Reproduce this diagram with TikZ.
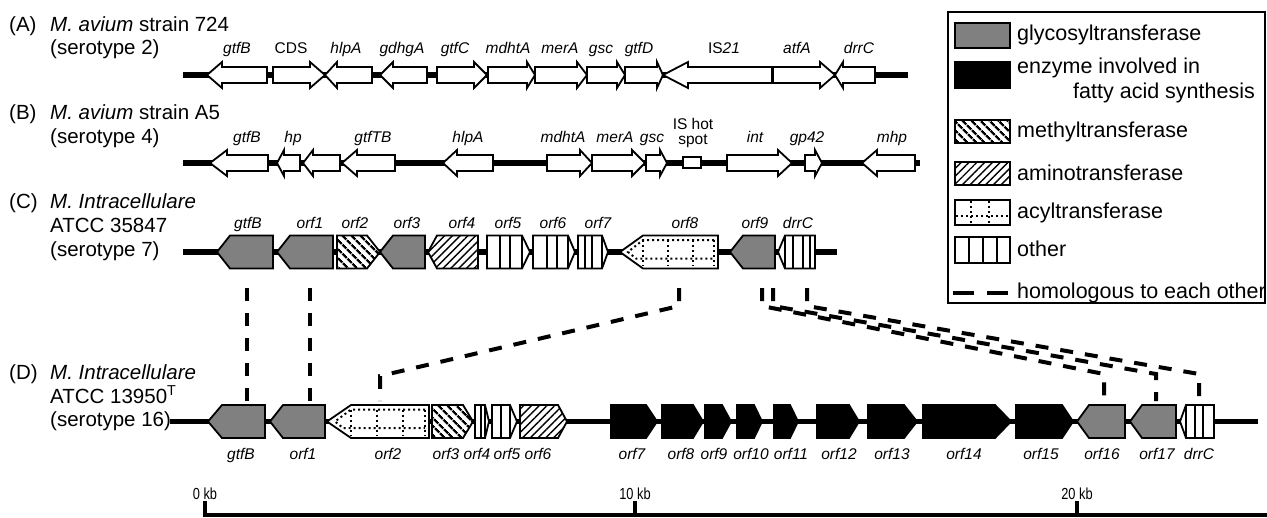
\documentclass[tikz,border=0pt]{standalone}
\usepackage{graphicx}
\usepackage{fontspec}
\setmainfont{Liberation Sans}
\usetikzlibrary{patterns.meta}
\definecolor{glygray}{RGB}{128,128,128}
\newcommand\ttlfont{\fontsize{20.5}{24}\selectfont}
\newcommand\glabfont{\fontsize{15.5}{18}\selectfont\itshape}
\newcommand\legfont{\fontsize{21.5}{25}\selectfont}
\newcommand\kbfont{\fontsize{16}{18}\selectfont}
% arrows of rows A and B: #1 start/tip, #2 head base, #3 tip/end, #4 y
\newcommand\arrR[4]{\draw[genebox] (#1,#4-8) -- (#2,#4-8) -- (#2,#4-13) -- (#3,#4) -- (#2,#4+13) -- (#2,#4+8) -- (#1,#4+8) -- cycle;}
\newcommand\arrL[4]{\draw[genebox] (#3,#4-8) -- (#2,#4-8) -- (#2,#4-13) -- (#1,#4) -- (#2,#4+13) -- (#2,#4+8) -- (#3,#4+8) -- cycle;}
% pentagon genes of rows C and D: #1 style, #2 start/tip, #3 head base, #4 tip/end, #5 y
\newcommand\geneR[5]{\draw[#1] (#2,#5-16.5) -- (#3,#5-16.5) -- (#4,#5) -- (#3,#5+16.5) -- (#2,#5+16.5) -- cycle;}
\newcommand\geneL[5]{\draw[#1] (#4,#5-16.5) -- (#3,#5-16.5) -- (#2,#5) -- (#3,#5+16.5) -- (#4,#5+16.5) -- cycle;}
\newcommand\otherlines[2]{\foreach \xx in {#1} {\draw[sepline] (\xx,#2-16.5) -- (\xx,#2+16.5);}}
% acyl inner dotted lines for left-pointing gene: #1 tip, #2 hb, #3 end, #4 y
\newcommand\acylL[4]{%
  \draw[dotln] (#3-4,#4-12) -- (#2,#4-12) -- (#1+8,#4) -- (#1+16,#4+6.5) -- (#3-4,#4+6.5);
  \foreach \xx in {#2,#2+(#3-#2)/3,#2+2*(#3-#2)/3,#3-4} {\draw[dotln] ({\xx},{#4-12}) -- ({\xx},{#4+14});}}
\tikzset{
  backbone/.style={line width=5.5pt},
  genebox/.style={draw=black,line width=1.8pt,fill=white,line join=miter},
  glyco/.style={genebox,fill=glygray},
  fatty/.style={genebox,fill=black},
  methyl/.style={draw=black,line width=1.8pt,preaction={fill=white},pattern={Lines[angle=-45,distance=6.5pt,line width=2.6pt]}},
  amino/.style={draw=black,line width=1.8pt,preaction={fill=white},pattern={Lines[angle=45,distance=5.5pt,line width=1.4pt]}},
  dotln/.style={line width=2pt,dash pattern=on 2pt off 3pt},
  sepline/.style={line width=1.8pt},
  homol/.style={line width=4pt,dash pattern=on 13pt off 12pt},
  glab/.style={font=\glabfont,anchor=base,inner sep=0pt},
  ttl/.style={font=\ttlfont,anchor=base west,inner sep=0pt},
  legtext/.style={font=\legfont,anchor=base west,inner sep=0pt},
  kblab/.style={font=\kbfont,anchor=base,inner sep=0pt},
  scalebar/.style={line width=3.5pt},
}
\begin{document}
\begin{tikzpicture}[x=1pt,y=-1pt]
\useasboundingbox (0,0) rectangle (1267,517);
\fill[white] (0,0) rectangle (1267,517);

% ---------------- titles
\node[ttl] (tA1) at (9,31) {(A)};
\node[ttl] (tA2) at (50,31) {\textit{M. avium} strain 724};
\node[ttl] (tA3) at (50,54) {(serotype 2)};
\node[ttl] (tB1) at (9,119) {(B)};
\node[ttl] (tB2) at (50,119) {\textit{M. avium} strain A5};
\node[ttl] (tB3) at (50,143) {(serotype 4)};
\node[ttl] (tC1) at (9,208) {(C)};
\node[ttl] (tC2) at (50,208) {\textit{M. Intracellulare}};
\node[ttl] (tC3) at (50,232) {ATCC 35847};
\node[ttl] (tC4) at (50,256) {(serotype 7)};
\node[ttl] (tD1) at (9,379) {(D)};
\node[ttl] (tD2) at (50,379) {\textit{M. Intracellulare}};
\node[ttl] (tD3) at (50,403) {ATCC 13950\textsuperscript{T}};
\node[ttl] (tD4) at (50,426) {(serotype 16)};

% ---------------- backbones
\draw[backbone] (183,75) -- (908,75);
\draw[backbone] (183,163) -- (920,163);
\draw[backbone] (183,252) -- (837,252);
\draw[backbone] (170,421.5) -- (1258,421.5);

% ---------------- row A
\arrL{207}{222}{267}{75}
\arrR{273}{310}{325}{75}
\arrL{325}{337}{372}{75}
\arrL{380}{393}{427}{75}
\arrR{437}{474}{487}{75}
\arrR{488}{527}{535}{75}
\arrR{535}{577}{587}{75}
\arrR{587}{617}{625}{75}
\arrR{625}{657}{663}{75}
\arrL{663}{688}{772}{75}
\arrR{773}{820}{835}{75}
\arrL{835}{843}{875}{75}
\node[glab] (a1) at (237,53) {gtfB};
\node[glab] (a2) at (291,53) {\upshape CDS};
\node[glab] (a3) at (346,53) {hlpA};
\node[glab] (a4) at (402,53) {gdhgA};
\node[glab] (a5) at (455,53) {gtfC};
\node[glab] (a6) at (508,53) {mdhtA};
\node[glab] (a7) at (560,53) {merA};
\node[glab] (a8) at (601,53) {gsc};
\node[glab] (a9) at (639,53) {gtfD};
\node[glab] (a10) at (724,53) {{\upshape IS}21};
\node[glab] (a11) at (797,53) {atfA};
\node[glab] (a12) at (859,53) {drrC};

% ---------------- row B
\arrL{210}{227}{268}{163}
\arrL{277}{284}{300}{163}
\arrL{303}{313}{340}{163}
\arrL{342}{357}{395}{163}
\arrL{443}{457}{493}{163}
\arrR{547}{580}{592}{163}
\arrR{592}{632}{645}{163}
\arrR{646}{660}{667}{163}
\draw[genebox] (683,157) rectangle (701,168);
\arrR{727}{778}{792}{163}
\arrR{805}{815}{822}{163}
\arrL{862}{877}{915}{163}
\node[glab] (b1) at (247,142) {gtfB};
\node[glab] (b2) at (293,142) {hp};
\node[glab] (b3) at (373,142) {gtfTB};
\node[glab] (b4) at (468,142) {hlpA};
\node[glab] (b5) at (563,142) {mdhtA};
\node[glab] (b6) at (615,142) {merA};
\node[glab] (b7) at (652,142) {gsc};
\node[font=\fontsize{15.5}{15}\selectfont,align=center,anchor=north,inner sep=0pt] (b8) at (693,118) {IS hot\\spot};
\node[glab] (b9) at (755,142) {int};
\node[glab] (b10) at (807,142) {gp42};
\node[glab] (b11) at (892,142) {mhp};

% ---------------- row C
\geneL{glyco}{217}{230}{273}{252}
\geneL{glyco}{277}{290}{333}{252}
\geneR{methyl}{337}{367}{380}{252}
\geneL{glyco}{380}{393}{425}{252}
\geneL{amino}{428}{437}{478}{252}
\geneR{genebox}{487}{522}{530}{252}\otherlines{500,510,522}{252}
\geneR{genebox}{533}{568}{575}{252}\otherlines{547,557,568}{252}
\geneR{genebox}{578}{602}{608}{252}\otherlines{585,592,602}{252}
\geneL{genebox}{620}{643}{718}{252}\acylL{620}{643}{718}{252}
\geneL{glyco}{730}{743}{775}{252}
\geneL{genebox}{778}{785}{815}{252}\otherlines{785,793,803,810}{252}
\node[glab] (c1) at (248,228) {gtfB};
\node[glab] (c2) at (310,228) {orf1};
\node[glab] (c3) at (355,228) {orf2};
\node[glab] (c4) at (407,228) {orf3};
\node[glab] (c5) at (462,228) {orf4};
\node[glab] (c6) at (508,228) {orf5};
\node[glab] (c7) at (553,228) {orf6};
\node[glab] (c8) at (598,228) {orf7};
\node[glab] (c9) at (685,228) {orf8};
\node[glab] (c10) at (755,228) {orf9};
\node[glab] (c11) at (798,228) {drrC};

% ---------------- row D
\geneL{glyco}{208}{222}{265}{421.5}
\geneL{glyco}{270}{283}{325}{421.5}
\geneL{genebox}{327}{351}{429}{421.5}\acylL{327}{351}{429}{421.5}
\geneR{methyl}{432}{463}{473}{421.5}
\geneR{genebox}{475}{485}{489}{421.5}\otherlines{481,485}{421.5}
\geneR{genebox}{492}{510}{517}{421.5}\otherlines{501,510}{421.5}
\geneR{amino}{520}{558}{567}{421.5}
\geneR{fatty}{611}{646}{657}{421.5}
\geneR{fatty}{662}{693}{703}{421.5}
\geneR{fatty}{705}{722}{731}{421.5}
\geneR{fatty}{737}{754}{762}{421.5}
\geneR{fatty}{774}{790}{798}{421.5}
\geneR{fatty}{817}{849}{859}{421.5}
\geneR{fatty}{868}{904}{917}{421.5}
\geneR{fatty}{923}{995}{1011}{421.5}
\geneR{fatty}{1016}{1062}{1073}{421.5}
\geneL{glyco}{1077}{1089}{1125}{421.5}
\geneL{glyco}{1130}{1142}{1176}{421.5}
\geneL{genebox}{1180}{1186}{1214}{421.5}\otherlines{1186,1195,1203}{421.5}
\node[glab] (d1) at (241,459) {gtfB};
\node[glab] (d2) at (303,459) {orf1};
\node[glab] (d3) at (388,459) {orf2};
\node[glab] (d4) at (446,459) {orf3};
\node[glab] (d5) at (477,459) {orf4};
\node[glab] (d6) at (507,459) {orf5};
\node[glab] (d7) at (538,459) {orf6};
\node[glab] (d8) at (632,459) {orf7};
\node[glab] (d9) at (681,459) {orf8};
\node[glab] (d10) at (714,459) {orf9};
\node[glab] (d11) at (751,459) {orf10};
\node[glab] (d12) at (791,459) {orf11};
\node[glab] (d13) at (839,459) {orf12};
\node[glab] (d14) at (892,459) {orf13};
\node[glab] (d15) at (964,459) {orf14};
\node[glab] (d16) at (1041,459) {orf15};
\node[glab] (d17) at (1102,459) {orf16};
\node[glab] (d18) at (1157,459) {orf17};
\node[glab] (d19) at (1199,459) {drrC};

% ---------------- homology connectors
\coordinate (hC1) at (247,288); \coordinate (hD1) at (247,401);
\coordinate (hC2) at (310,288); \coordinate (hD2) at (310,401);
\coordinate (hC3) at (679,288); \coordinate (hC3b) at (679,306);
\coordinate (hD3b) at (380,376); \coordinate (hD3) at (380,401);
\coordinate (hC4) at (762,288); \coordinate (hC4b) at (762,306);
\coordinate (hD4b) at (1104,374); \coordinate (hD4) at (1104,401);
\coordinate (hC5) at (773,288); \coordinate (hC5b) at (773,306);
\coordinate (hD5b) at (1156,374); \coordinate (hD5) at (1156,401);
\coordinate (hC6) at (807,288); \coordinate (hC6b) at (807,306);
\coordinate (hD6b) at (1199,374); \coordinate (hD6) at (1199,401);
\draw[homol] (hC1) -- (hD1);
\draw[homol] (hC2) -- (hD2);
\draw[homol] (hC3) -- (hC3b) -- (hD3b) -- (hD3);
\draw[homol] (hC4) -- (hC4b) -- (hD4b) -- (hD4);
\draw[homol] (hC5) -- (hC5b) -- (hD5b) -- (hD5);
\draw[homol] (hC6) -- (hC6b) -- (hD6b) -- (hD6);

% ---------------- legend
\draw[line width=1.8pt] (948,12) rectangle (1265,303);
\draw[glyco] (955,23) rectangle (1010,48);
\draw[fatty] (955,62) rectangle (1010,88);
\draw[methyl] (955,120) rectangle (1010,143);
\draw[amino] (955,162) rectangle (1010,185);
\draw[genebox] (955,200) rectangle (1010,225);
\draw[dotln] (956,216) -- (1009,216);
\draw[dotln] (971,201) -- (971,224);
\draw[dotln] (989,201) -- (989,224);
\draw[genebox] (955,237) rectangle (1010,263);
\foreach \xx in {969,983,997} {\draw[sepline] (\xx,237) -- (\xx,263);}
\draw[line width=4pt,dash pattern=on 21pt off 13pt] (953,293) -- (1008,293);
\node[legtext] (l1) at (1017,40.5) {glycosyltransferase};
\node[legtext] (l2) at (1017,73.5) {enzyme involved in};
\node[legtext] (l3) at (1073,98.5) {fatty acid synthesis};
\node[legtext] (l4) at (1017,137.5) {methyltransferase};
\node[legtext] (l5) at (1017,180) {aminotransferase};
\node[legtext] (l6) at (1017,218) {acyltransferase};
\node[legtext] (l7) at (1017,256.5) {other};
\node[legtext] (l8) at (1017,298) {homologous to each other};

% ---------------- scale bar
\coordinate (s0) at (205,501); \coordinate (s0b) at (205,515);
\coordinate (s1) at (635,501); \coordinate (s1b) at (635,515);
\coordinate (s2) at (1077,501); \coordinate (s2b) at (1077,515);
\coordinate (send) at (1267,515);
\draw[scalebar] (s0) -- (s0b) -- (send);
\draw[scalebar] (s1) -- (s1b);
\draw[scalebar] (s2) -- (s2b);
\node[kblab] (k0) at (205,499) {\scalebox{0.8}[1]{0 kb}};
\node[kblab] (k1) at (635,499) {\scalebox{0.8}[1]{10 kb}};
\node[kblab] (k2) at (1077,499) {\scalebox{0.8}[1]{20 kb}};
\end{tikzpicture}
\end{document}
